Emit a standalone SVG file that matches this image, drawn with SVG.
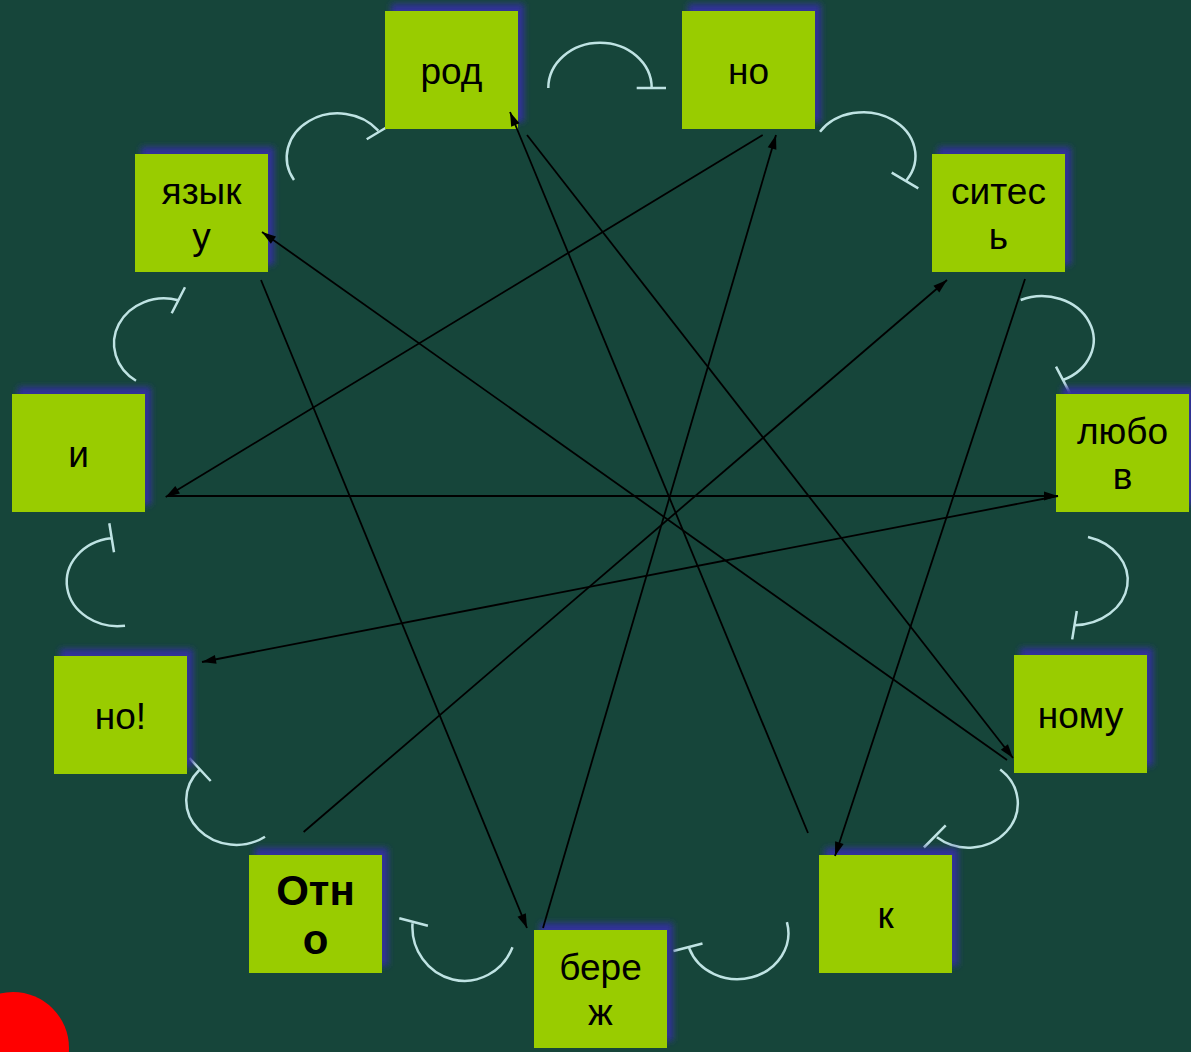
<svg xmlns="http://www.w3.org/2000/svg" width="1191" height="1052" viewBox="0 0 1191 1052">
<defs>
<style>
.bg{fill:#16453A}
.box{fill:#99CC00}
.sh{fill:#333399;filter:url(#sb)}
.t{font-family:"Liberation Sans",Arial,sans-serif;font-size:37px;fill:#000;text-anchor:middle}
.tb{font-weight:bold;font-size:42px}
.arc{fill:none;stroke:#BFE3E3;stroke-width:2.5}
.ln{fill:none;stroke:#000;stroke-width:1.8;marker-end:url(#ah)}
</style>
<filter id="sb" x="-20%" y="-20%" width="140%" height="140%"><feGaussianBlur stdDeviation="3"/></filter>
<marker id="ah" markerUnits="userSpaceOnUse" markerWidth="15" markerHeight="10" refX="14" refY="5" orient="auto" overflow="visible"><path d="M0,0.5 L14,5 L0,9.5 z" fill="#000"/></marker>
</defs>
<rect class="bg" x="0" y="0" width="1191" height="1052"/>
<circle cx="13" cy="1048" r="56" fill="#FF0000"/>

<g id="arcs">
<path class="arc" d="M548.3,88 A51.7,45.3 0 0 1 651.7,88 M636.7,88 L666,88"/>
<path class="arc" d="M820,131.7 A51.7,43.3 0 0 1 906.7,180 M891.7,172.7 L918.3,188.3"/>
<path class="arc" d="M1020.7,300 A50,42.3 0 1 1 1063,380 M1056,366.7 L1070,393.3"/>
<path class="arc" d="M1088,537 A55,45 0 0 1 1074.5,625.2 M1076.8,611 L1072.2,639.4"/>
<path class="arc" d="M1000.2,769.4 A49.2,44.2 0 0 1 936.9,837.3 M945.7,825.4 L923.9,847.5"/>
<path class="arc" d="M786.9,922.1 A51,46 0 0 1 689.2,948.2 M702.5,943.5 L673.4,951"/>
<path class="arc" d="M512.5,947.3 A52,54 0 0 1 412.5,923.3 M427.9,925.7 L399.3,918.3"/>
<path class="arc" d="M265,836.7 A50,44.7 0 0 1 199.3,770 M210.7,781 L189.3,758"/>
<path class="arc" d="M125,625.7 A51,44 0 0 1 110.7,538.3 M114,552.3 L109.3,523.3"/>
<path class="arc" d="M136,380.7 A50,45 0 0 1 178.3,300.3 M171.7,313.3 L185,287.3"/>
<path class="arc" d="M294,180 A51,44 0 0 1 378.3,130.7 M366.7,139.3 L386.7,127.3"/>
</g>

<g id="n-rod" transform="translate(385,11)"><rect class="sh" x="6" y="-7" width="133" height="118"/><rect class="box" width="133" height="118"/><text class="t" x="66.5" y="72.5">род</text></g>
<g id="n-no" transform="translate(682,11)"><rect class="sh" x="6" y="-7" width="133" height="118"/><rect class="box" width="133" height="118"/><text class="t" x="66.5" y="72.5">но</text></g>
<g id="n-sites" transform="translate(932,154)"><rect class="sh" x="6" y="-7" width="133" height="118"/><rect class="box" width="133" height="118"/><text class="t" x="66.5" y="50">ситес</text><text class="t" x="66.5" y="94.5">ь</text></g>
<g id="n-lyubov" transform="translate(1056,394)"><rect class="sh" x="6" y="-7" width="133" height="118"/><rect class="box" width="133" height="118"/><text class="t" x="66.5" y="50">любо</text><text class="t" x="66.5" y="94.5">в</text></g>
<g id="n-nomu" transform="translate(1014,655)"><rect class="sh" x="6" y="-7" width="133" height="118"/><rect class="box" width="133" height="118"/><text class="t" x="66.5" y="72.5">ному</text></g>
<g id="n-k" transform="translate(819,855)"><rect class="sh" x="6" y="-7" width="133" height="118"/><rect class="box" width="133" height="118"/><text class="t" x="66.5" y="72.5">к</text></g>
<g id="n-berezh" transform="translate(534,930)"><rect class="sh" x="6" y="-7" width="133" height="118"/><rect class="box" width="133" height="118"/><text class="t" x="66.5" y="50">бере</text><text class="t" x="66.5" y="94.5">ж</text></g>
<g id="n-otno" transform="translate(249,855)"><rect class="sh" x="6" y="-7" width="133" height="118"/><rect class="box" width="133" height="118"/><text class="t tb" x="66.5" y="50">Отн</text><text class="t tb" x="66.5" y="99">о</text></g>
<g id="n-no2" transform="translate(54,656)"><rect class="sh" x="6" y="-7" width="133" height="118"/><rect class="box" width="133" height="118"/><text class="t" x="66.5" y="72.5">но!</text></g>
<g id="n-i" transform="translate(12,394)"><rect class="sh" x="6" y="-7" width="133" height="118"/><rect class="box" width="133" height="118"/><text class="t" x="66.5" y="72.5">и</text></g>
<g id="n-yazyku" transform="translate(135,154)"><rect class="sh" x="6" y="-7" width="133" height="118"/><rect class="box" width="133" height="118"/><text class="t" x="66.5" y="50">язык</text><text class="t" x="66.5" y="94.5">у</text></g>

<g id="connectors">
<line class="ln" x1="303.6" y1="832" x2="947" y2="280"/>
<line class="ln" x1="1025" y1="279" x2="835" y2="856"/>
<line class="ln" x1="808" y1="833" x2="510" y2="112"/>
<line class="ln" x1="527" y1="135" x2="1013" y2="758"/>
<line class="ln" x1="1007" y1="760" x2="262" y2="232"/>
<line class="ln" x1="261" y1="280" x2="527" y2="928"/>
<line class="ln" x1="543" y1="928" x2="776" y2="135"/>
<line class="ln" x1="762.7" y1="135" x2="165.7" y2="497"/>
<line class="ln" x1="167" y1="496" x2="1058" y2="496"/>
<line class="ln" x1="1058" y1="496" x2="202" y2="662"/>
</g>
</svg>
